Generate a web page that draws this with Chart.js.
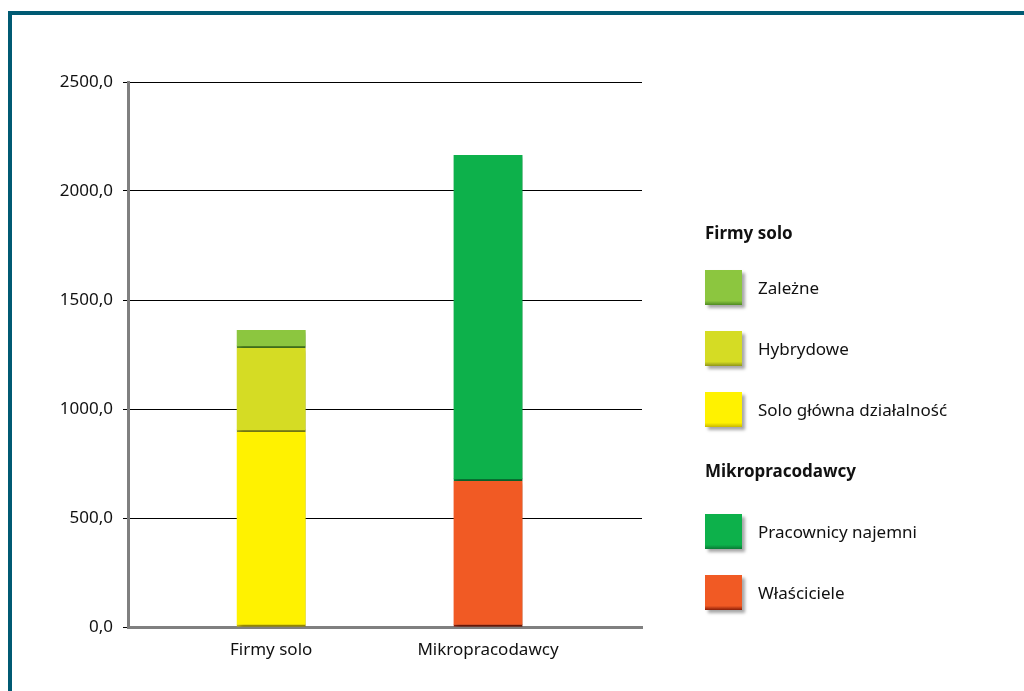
<!DOCTYPE html>
<html>
<head>
<meta charset="utf-8">
<script src="https://cdn.jsdelivr.net/npm/chart.js@4"></script>
<style>
  html, body { margin: 0; padding: 0; background: #fff; }
  #wrap { position: relative; width: 1024px; height: 691px; overflow: hidden; font-family: "Noto Sans", sans-serif; }
  #frame { position: absolute; left: 8px; top: 11px; right: -10px; bottom: -10px; border-left: 4px solid #005a73; border-top: 4px solid #005a73; }
  #c { position: absolute; left: 0; top: 0; }
  #legend { position: absolute; left: 705px; top: 207px; width: 310px; }
  .hdr { height: 50px; display: flex; align-items: center; font-weight: bold; font-size: 17px; color: #111; }
  .hdr.second { height: 61px; }
  .row { height: 61px; display: flex; align-items: center; font-size: 17px; color: #111; }
  .sw { width: 37px; height: 35px; margin-right: 16px; box-shadow: 3px 3px 3px rgba(0,0,0,0.35); }
</style>
</head>
<body>
<div id="wrap">
  <div id="frame"></div>
  <canvas id="c" width="1024" height="691"></canvas>
  <div id="legend"></div>
</div>
<script>
const categories = ['Firmy solo', 'Mikropracodawcy'];
const yTicks = [0, 500, 1000, 1500, 2000, 2500];

const soloGlowna   = [895, null];
const hybrydowe    = [385, null];
const zalezne      = [82, null];
const wlasciciele  = [null, 670];
const pracownicy   = [null, 1495];

const seriesDefs = [
  { label: 'Solo główna działalność', values: soloGlowna, color: '#fff200', dark: '#c9b800', group: 0 },
  { label: 'Hybrydowe', values: hybrydowe, color: '#d5dc24', dark: '#8f951a', group: 0 },
  { label: 'Zależne', values: zalezne, color: '#8cc63f', dark: '#4f8a22', group: 0 },
  { label: 'Właściciele', values: wlasciciele, color: '#f15a24', dark: '#8a1e08', group: 1 },
  { label: 'Pracownicy najemni', values: pracownicy, color: '#0db14b', dark: '#0a7a35', group: 1 }
];

const datasets = seriesDefs.map(s => ({
  label: s.label,
  data: s.values.map((v, i) => ({ x: i + 1, y: v })),
  backgroundColor: s.color,
  borderColor: s.dark,
  borderWidth: { top: 0, left: 0, right: 0, bottom: 2 },
  borderSkipped: false,
  barThickness: 69
}));

const shadowPlugin = {
  id: 'shadow',
  beforeDatasetsDraw(chart) {
    const ctx = chart.ctx;
    ctx.save();
    ctx.shadowColor = 'rgba(0,0,0,0.35)';
    ctx.shadowOffsetX = 4;
    ctx.shadowOffsetY = 2;
    ctx.shadowBlur = 4;
  },
  afterDatasetsDraw(chart) { chart.ctx.restore(); }
};

new Chart(document.getElementById('c'), {
  type: 'bar',
  data: { datasets },
  plugins: [shadowPlugin],
  options: {
    responsive: false,
    animation: false,
    layout: { padding: { left: 0, right: 382, top: 82, bottom: 0 } },
    plugins: { legend: { display: false }, tooltip: { enabled: false } },
    scales: {
      x: {
        type: 'linear',
        stacked: true,
        offset: false,
        bounds: 'data',
        min: 0.34,
        max: 2.71,
        afterBuildTicks(scale) { scale.ticks = categories.map((c, i) => ({ value: i + 1 })); },
        afterFit(scale) { scale.height = 64; },
        ticks: {
          callback: (v) => categories[v - 1],
          color: '#111',
          font: { family: 'Noto Sans', size: 17 },
          padding: 13,
          maxRotation: 0,
          autoSkip: false
        },
        grid: { display: false, drawTicks: false, offset: false },
        border: { color: '#808080', width: 3 }
      },
      y: {
        stacked: true,
        min: 0,
        max: 2500,
        afterBuildTicks(scale) { scale.ticks = yTicks.map(v => ({ value: v })); },
        afterFit(scale) { scale.width = 128; },
        ticks: {
          callback: (v) => v.toFixed(1).replace('.', ','),
          color: '#111',
          font: { family: 'Noto Sans', size: 17 },
          padding: 10
        },
        grid: { color: '#000', lineWidth: 1, tickLength: 5, tickColor: '#000' },
        border: { color: '#808080', width: 3 }
      }
    }
  }
});

// HTML legend built from the series definitions
const legend = document.getElementById('legend');
const groups = categories.map((title, gi) => ({
  title,
  items: seriesDefs.filter(s => s.group === gi).slice().reverse()
}));
groups.forEach((g, gi) => {
  const h = document.createElement('div');
  h.className = 'hdr' + (gi > 0 ? ' second' : '');
  h.textContent = g.title;
  legend.appendChild(h);
  g.items.forEach(s => {
    const r = document.createElement('div');
    r.className = 'row';
    const sw = document.createElement('div');
    sw.className = 'sw';
    sw.style.background = `linear-gradient(to bottom, ${s.color} 0%, ${s.color} 88%, ${s.dark} 100%)`;
    const t = document.createElement('span');
    t.textContent = s.label;
    r.appendChild(sw);
    r.appendChild(t);
    legend.appendChild(r);
  });
});
</script>
</body>
</html>
